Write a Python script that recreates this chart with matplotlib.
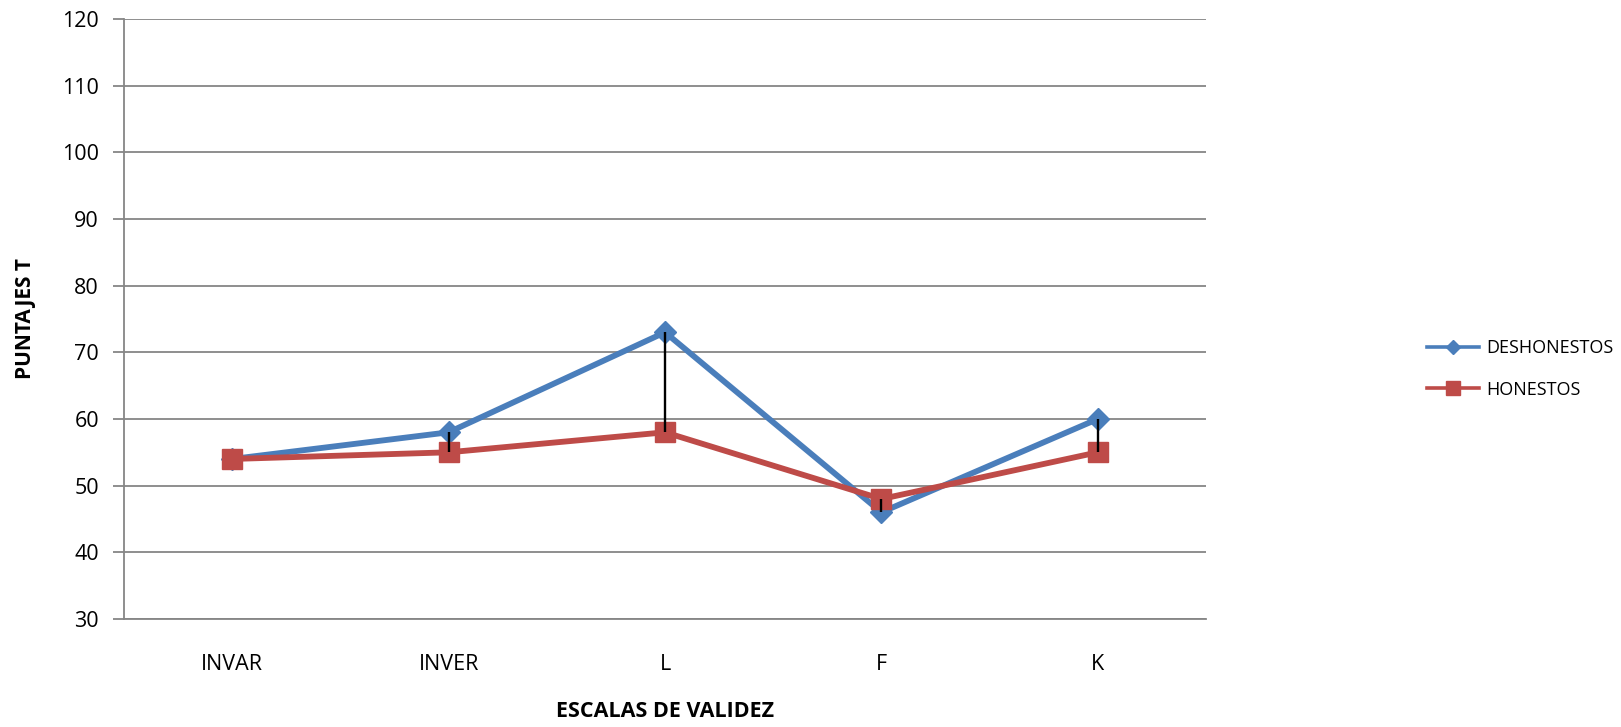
import numpy as np
import matplotlib
matplotlib.use('Agg')
import matplotlib.pyplot as plt

categories = ['INVAR', 'INVER', 'L', 'F', 'K']
deshonestos = [54, 58, 73, 46, 60]
honestos = [54, 55, 58, 48, 55]

plt.rcParams['font.family'] = ['Open Sans', 'DejaVu Sans']

fig = plt.figure(figsize=(16.21, 7.27), dpi=100)
ax = fig.add_axes([0.0765, 0.1486, 0.6675, 0.8253])

x = np.arange(len(categories))
grid_c = '#868686'

ax.plot(x, deshonestos, color='#4A7EBB', lw=4.2, marker='D', ms=11.5,
        label='DESHONESTOS', zorder=3)
ax.plot(x, honestos, color='#BE4B48', lw=4.2, marker='s', ms=14,
        label='HONESTOS', zorder=4)

# high-low lines
hi = np.maximum(deshonestos, honestos)
lo = np.minimum(deshonestos, honestos)
ax.vlines(x, lo, hi, color='black', lw=1.7, zorder=5)

ax.set_xlim(-0.5, len(categories) - 0.5)
ax.set_ylim(30, 120)
ax.set_yticks(np.arange(30, 121, 10))
ax.set_xticks(x)
ax.set_xticklabels(categories)
ax.yaxis.grid(True, color=grid_c, lw=1.3)
ax.set_axisbelow(True)

for s in ['top', 'right']:
    ax.spines[s].set_visible(False)
for s in ['left', 'bottom']:
    ax.spines[s].set_color(grid_c)
    ax.spines[s].set_linewidth(1.3)

ax.tick_params(axis='y', length=8, color=grid_c, width=1.3, labelsize=15.5, pad=10)
ax.tick_params(axis='x', length=0, labelsize=15.5, pad=25)

ax.set_xlabel('ESCALAS DE VALIDEZ', fontsize=15.5, fontweight='bold')
ax.set_ylabel('PUNTAJES T', fontsize=15, fontweight='bold')
ax.xaxis.set_label_coords(0.5, -0.155)
ax.yaxis.set_label_coords(-0.091, 0.5)
ax.xaxis.label.set_va('center')
ax.yaxis.label.set_va('center')

leg = fig.legend(loc='center left', bbox_to_anchor=(0.8803, 0.4924), frameon=False,
                 fontsize=13, handlelength=2.9, labelspacing=1.3, handletextpad=0.4,
                 borderpad=0, borderaxespad=0)
for h in leg.legend_handles:
    h.set_linewidth(2.6)
leg.legend_handles[0].set_markersize(7.5)
leg.legend_handles[1].set_markersize(9.5)

fig.savefig('out.png', dpi=100)
